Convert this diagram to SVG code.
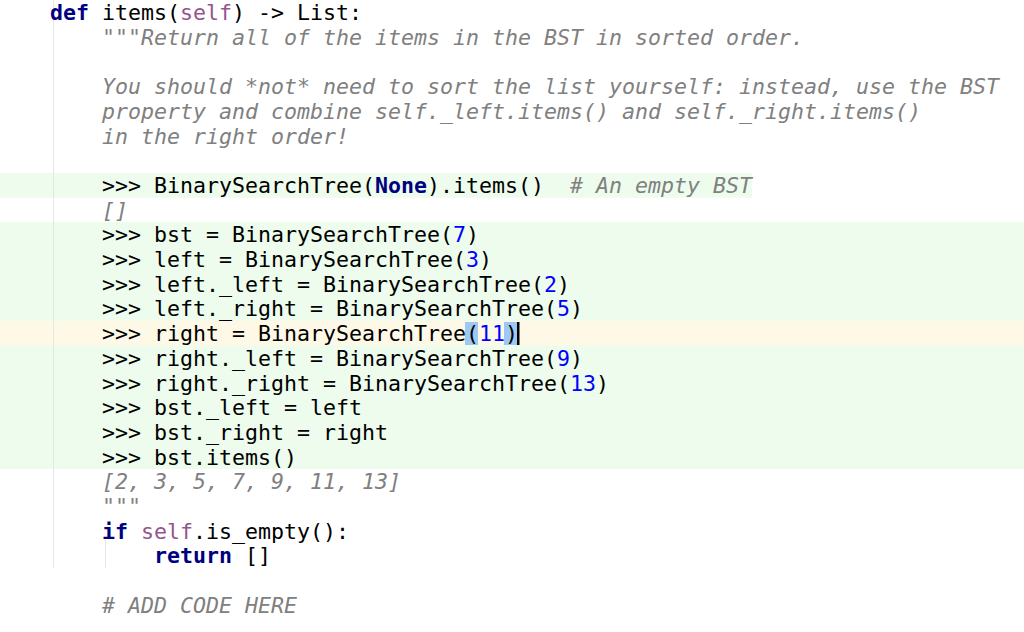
<svg xmlns="http://www.w3.org/2000/svg" width="1024" height="632" viewBox="0 0 1024 632">
<style>
text{font-family:"DejaVu Sans Mono",monospace;font-size:21.6px;fill:#000;white-space:pre}
.k{fill:#000080;font-weight:bold}
.s{fill:#94558D}
.d{fill:#808080;font-style:italic}
.n{fill:#0000FF}
</style>
<rect width="1024" height="632" fill="#fff"/>
<rect x="0" y="173" width="752" height="24.7" fill="#EDFCED"/>
<rect x="0" y="222" width="1024" height="247" fill="#EDFCED"/>
<rect x="0" y="320.8" width="1024" height="24.7" fill="#FDF9E6"/>
<rect x="465" y="322" width="13" height="23" fill="#9CC8F4"/>
<rect x="504" y="322" width="13" height="23" fill="#9CC8F4"/>
<rect x="517" y="322" width="2.5" height="23" fill="#000"/>
<line x1="53.5" y1="0" x2="53.5" y2="568" stroke="#e6e6e6" stroke-width="1"/>
<line x1="105.5" y1="540" x2="105.5" y2="568" stroke="#e6e6e6" stroke-width="1"/>
<g id="code">
<text x="50" y="20"><tspan class="k">def</tspan> items(<tspan class="s">self</tspan>) -&gt; List:</text>
<text x="102" y="44.7" class="d">"""Return all of the items in the BST in sorted order.</text>
<text x="102" y="94.1" class="d">You should *not* need to sort the list yourself: instead, use the BST</text>
<text x="102" y="118.8" class="d">property and combine self._left.items() and self._right.items()</text>
<text x="102" y="143.5" class="d">in the right order!</text>
<text x="102" y="192.9">&gt;&gt;&gt; BinarySearchTree(<tspan class="k">None</tspan>).items()  <tspan class="d"># An empty BST</tspan></text>
<text x="102" y="217.6" class="d">[]</text>
<text x="102" y="242.3">&gt;&gt;&gt; bst = BinarySearchTree(<tspan class="n">7</tspan>)</text>
<text x="102" y="267">&gt;&gt;&gt; left = BinarySearchTree(<tspan class="n">3</tspan>)</text>
<text x="102" y="291.7">&gt;&gt;&gt; left._left = BinarySearchTree(<tspan class="n">2</tspan>)</text>
<text x="102" y="316.4">&gt;&gt;&gt; left._right = BinarySearchTree(<tspan class="n">5</tspan>)</text>
<text x="102" y="341.1">&gt;&gt;&gt; right = BinarySearchTree(<tspan class="n">11</tspan>)</text>
<text x="102" y="365.8">&gt;&gt;&gt; right._left = BinarySearchTree(<tspan class="n">9</tspan>)</text>
<text x="102" y="390.5">&gt;&gt;&gt; right._right = BinarySearchTree(<tspan class="n">13</tspan>)</text>
<text x="102" y="415.2">&gt;&gt;&gt; bst._left = left</text>
<text x="102" y="439.9">&gt;&gt;&gt; bst._right = right</text>
<text x="102" y="464.6">&gt;&gt;&gt; bst.items()</text>
<text x="102" y="489.3" class="d">[2, 3, 5, 7, 9, 11, 13]</text>
<text x="102" y="514" class="d">"""</text>
<text x="102" y="538.7"><tspan class="k">if</tspan> <tspan class="s">self</tspan>.is_empty():</text>
<text x="154" y="563.4"><tspan class="k">return</tspan> []</text>
<text x="102" y="612.8" class="d"># ADD CODE HERE</text>
</g>
</svg>
